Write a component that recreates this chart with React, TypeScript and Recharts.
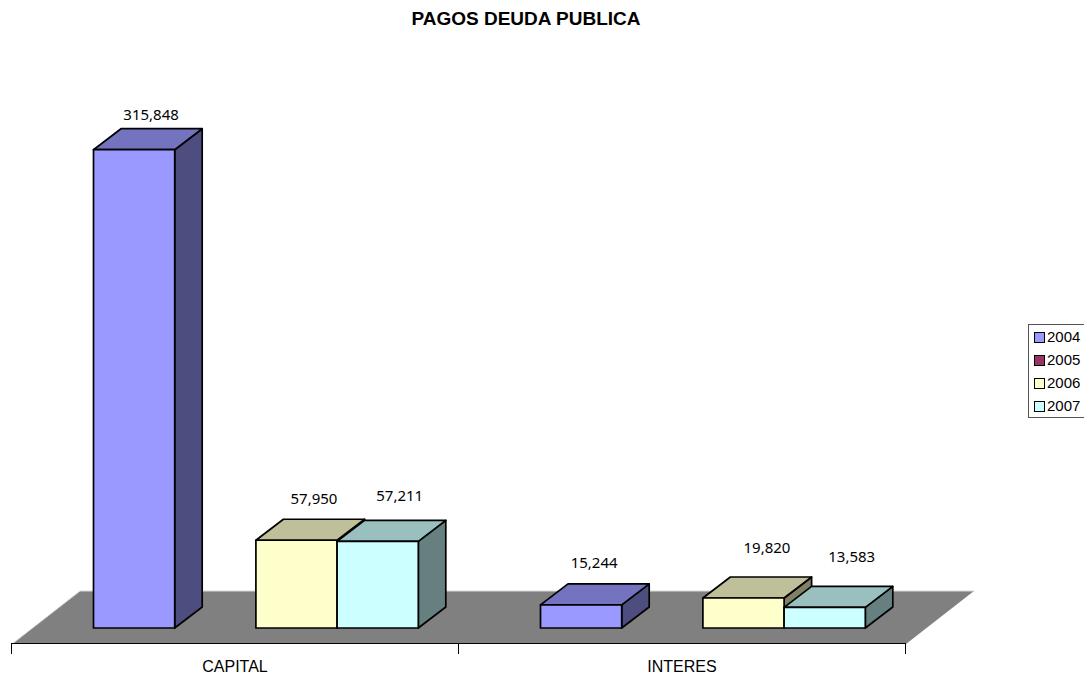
import { Bar, BarChart, Customized, LabelList, XAxis, YAxis } from "recharts";

const categories = ["CAPITAL", "INTERES"];
const values2004 = [315848, 15244];
const values2005: (number | null)[] = [null, null];
const values2006 = [57950, 19820];
const values2007 = [57211, 13583];

const seriesNames = ["2004", "2005", "2006", "2007"];
const seriesValues = [values2004, values2005, values2006, values2007];

// front, top and side faces of each box
const faces = [
  { front: "#9999FF", top: "#7373BF", side: "#4D4D80" },
  { front: "#993366", top: "#73264D", side: "#4D1A33" },
  { front: "#FFFFCC", top: "#BFBF99", side: "#808066" },
  { front: "#CCFFFF", top: "#99BFBF", side: "#668080" },
];

// label placement relative to the top of its bar: [dx, dy] per series, per category
const labelNudge: [number, number][][] = [
  [[17, -30], [13, -37]],
  [[0, 0], [0, 0]],
  [[17.5, -36], [23.5, -45]],
  [[22, -40], [27, -45]],
];

const data = categories.map((name, i) => {
  const row: Record<string, string | number | null> = { name };
  seriesNames.forEach((s, j) => {
    row[s] = seriesValues[j][i];
  });
  return row;
});

const DEPTH_X = 27.5;
const DEPTH_Y = 21;
const AXIS_SHIFT = 21;
const ARIAL = "'Liberation Sans', Arial, sans-serif";

// plain box with a front, a top and a right side
const Box3D = (props: any) => {
  const { x, y, width, height, colors } = props;
  if (height == null || height <= 0) return null;
  const r = x + width;
  const b = y + height;
  const dx = DEPTH_X;
  const dy = DEPTH_Y;
  return (
    <g stroke="#000" strokeWidth={1.7} strokeLinejoin="round">
      <polygon
        points={`${r},${y} ${r + dx},${y - dy} ${r + dx},${b - dy} ${r},${b}`}
        fill={colors.side}
      />
      <polygon
        points={`${x},${y} ${x + dx},${y - dy} ${r + dx},${y - dy} ${r},${y}`}
        fill={colors.top}
      />
      <rect x={x} y={y} width={width} height={height} fill={colors.front} />
    </g>
  );
};

const ValueLabel = (props: any) => {
  const { x, y, width, value, index, seriesIndex } = props;
  if (value == null) return null;
  const [dx, dy] = labelNudge[seriesIndex][index];
  return (
    <text
      x={x + width / 2 + dx}
      y={y + dy}
      textAnchor="middle"
      fontFamily="'Noto Sans', sans-serif"
      fontSize={15}
      fill="#000"
    >
      {Number(value).toLocaleString("en-US")}
    </text>
  );
};

const CategoryTick = (props: any) => {
  const { x, payload } = props;
  return (
    <text
      x={x - AXIS_SHIFT}
      y={672}
      textAnchor="middle"
      fontFamily={ARIAL}
      fontSize={16}
      fill="#000"
    >
      {payload.value}
    </text>
  );
};

const Floor = () => (
  <g>
    <polygon points="12,644 80,591 974,591 906,644" fill="#808080" />
    <polyline
      points="12,644 80,591 974,591"
      fill="none"
      stroke="#D9D9D9"
      strokeWidth={1}
    />
    <path
      d="M12,643.5H906M11.5,643V654M458.5,643V654M905.5,643V654"
      stroke="#000"
      strokeWidth={1}
      fill="none"
    />
  </g>
);

const ChartLegend = () => (
  <div
    style={{
      position: "absolute",
      left: 1028,
      top: 324,
      width: 70,
      height: 94,
      boxSizing: "border-box",
      border: "1px solid #555",
      fontFamily: ARIAL,
      fontSize: 15,
    }}
  >
    {seriesNames.map((s, i) => (
      <div
        key={s}
        style={{
          position: "absolute",
          left: 5,
          top: 1 + i * 23,
          height: 21,
          lineHeight: "21px",
          whiteSpace: "nowrap",
        }}
      >
        <span
          style={{
            position: "absolute",
            left: 0,
            top: 6,
            width: 9,
            height: 9,
            border: "1px solid #000",
            background: faces[i].front,
          }}
        />
        <span style={{ marginLeft: 13 }}>{s}</span>
      </div>
    ))}
  </div>
);

export default function App() {
  return (
    <div
      style={{
        position: "absolute",
        left: 0,
        top: 0,
        width: 1084,
        height: 675,
        overflow: "hidden",
        background: "#fff",
      }}
    >
      <div
        style={{
          position: "absolute",
          left: 0,
          width: 1052,
          top: 8,
          textAlign: "center",
          fontFamily: ARIAL,
          fontWeight: 700,
          fontSize: 19,
          lineHeight: "22px",
        }}
      >
        PAGOS DEUDA PUBLICA
      </div>
      <BarChart
        width={1084}
        height={675}
        data={data}
        margin={{ top: 98, right: 157.5, left: 32.5, bottom: 0 }}
        barSize={81.2}
        barGap={0}
      >
        <Customized component={Floor} />
        <XAxis
          dataKey="name"
          height={47}
          axisLine={false}
          tickLine={false}
          tick={<CategoryTick />}
          interval={0}
        />
        <YAxis hide domain={[0, 350000]} />
        {seriesNames.map((s, i) => (
          <Bar
            key={s}
            dataKey={s}
            isAnimationActive={false}
            shape={(p: any) => <Box3D {...p} colors={faces[i]} />}
          >
            <LabelList
              dataKey={s}
              content={(p: any) => <ValueLabel {...p} seriesIndex={i} />}
            />
          </Bar>
        ))}
      </BarChart>
      <ChartLegend />
    </div>
  );
}
